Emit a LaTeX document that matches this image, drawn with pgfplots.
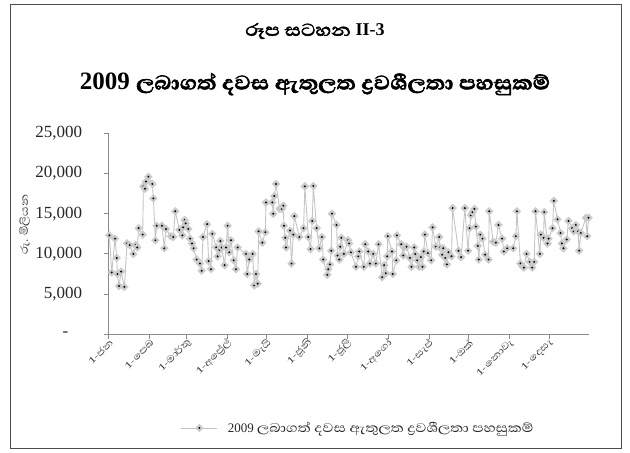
\documentclass[border=0pt]{standalone}
\usepackage{pgfplots}
\pgfplotsset{compat=1.18}
\usepackage{pgfplotstable}
\usepackage{fontspec}
\setmainfont{Liberation Serif}
\newfontfamily\sinhf[Script=Sinhala, FakeStretch=1.2]{Abhaya Libre}
\newfontfamily\sinhb[Script=Sinhala, FakeStretch=1.15, FakeBold=2.5]{Abhaya Libre}
\definecolor{lngray}{HTML}{C4C4C4}
\definecolor{mkgray}{HTML}{CBCBCB}
\definecolor{axgray}{HTML}{8A8A8A}
\pgfdeclareplotmark{dd}{%
  \pgfpathmoveto{\pgfqpoint{0pt}{\pgfplotmarksize}}%
  \pgfpathlineto{\pgfqpoint{\pgfplotmarksize}{0pt}}%
  \pgfpathlineto{\pgfqpoint{0pt}{-\pgfplotmarksize}}%
  \pgfpathlineto{\pgfqpoint{-\pgfplotmarksize}{0pt}}%
  \pgfpathclose
  \pgfsetfillcolor{mkgray}\pgfusepath{fill}%
  \pgfpathcircle{\pgfpointorigin}{1.1pt}%
  \pgfsetfillcolor{black}\pgfusepath{fill}%
}
\pgfplotstableread{
d v
0.5 12300
2.3 7700
4.8 11900
6.1 9500
6.6 7500
7.8 6000
9.4 7800
11.9 5900
13.9 11300
15.9 11100
18.7 10000
20.5 11100
21.7 10800
22.7 13200
25.8 12400
26.3 18400
27.5 18100
28.3 19000
30.1 19600
33.1 18700
33.9 16900
35.4 11700
36.4 13500
40.4 13500
42.2 10700
43.5 13100
47.0 12200
49.0 12100
50.5 15300
53.6 13000
55.9 12300
56.4 13300
57.6 14200
58.4 13800
60.4 13100
61.7 11900
63.2 11300
64.4 10700
66.7 9300
69.2 8800
70.5 7900
71.5 12100
74.6 13700
75.8 9100
77.6 8100
78.6 12500
81.6 10800
82.6 9700
83.9 10500
84.7 11600
85.7 10800
87.9 8600
89.0 10800
90.2 13500
91.5 10200
92.7 11700
94.8 9200
96.5 8100
97.8 10800
104.1 10000
105.1 7500
106.6 9300
109.2 10000
110.4 6100
111.7 7500
113.0 6300
113.7 12800
116.5 11400
118.8 12700
119.3 16400
124.1 16400
124.8 15000
125.6 17200
126.9 18700
129.6 15600
131.4 15600
132.4 16000
132.9 13500
133.9 12000
134.5 10800
137.5 12900
138.7 8800
140.0 12400
140.8 14700
144.6 12100
147.8 13200
148.8 18400
151.4 12100
153.1 10600
154.4 14100
155.2 18450
157.7 13200
159.8 10700
161.7 12100
162.7 9300
165.8 7400
166.5 8100
167.8 8700
168.8 10400
169.3 15000
172.8 13600
173.6 9800
174.9 9300
175.6 10900
176.4 12000
178.4 10000
181.5 11700
182.3 11300
183.7 10200
187.5 8400
189.3 9700
190.0 10300
193.5 8400
194.6 11200
196.8 10300
198.1 8800
200.6 10000
202.6 8800
204.7 11200
207.4 7100
208.9 8600
210.2 7600
211.2 9700
211.7 12200
214.8 10300
215.5 7500
218.1 9200
218.6 12300
221.9 11200
223.4 9800
224.1 10800
225.9 10900
228.4 9500
229.7 8400
231.7 10800
232.5 10000
234.0 9200
235.5 8400
236.8 9600
238.0 8400
239.0 10300
239.8 12400
242.1 10100
244.6 9200
245.6 13300
248.1 10900
250.7 12100
251.2 10800
252.9 9900
253.7 10700
255.2 9500
256.5 8700
257.7 10200
260.0 9700
260.8 15700
265.3 10400
267.3 9600
270.1 15700
272.6 10400
273.7 13200
274.7 14800
275.9 15200
277.4 15600
278.5 13400
280.0 11000
280.7 9300
281.8 12400
283.5 11900
285.5 9900
288.1 9300
288.6 15300
291.6 11500
293.6 11400
295.6 13600
298.4 11900
299.7 10300
302.2 10700
306.8 10700
308.8 12200
309.6 15300
312.3 8800
313.9 8400
314.9 8300
316.9 10000
319.4 9000
321.2 8300
322.7 9000
323.7 15300
327.0 10000
327.8 12400
329.8 12000
330.3 15200
332.8 11300
333.6 11900
336.6 13200
337.6 16600
340.4 14300
342.7 12600
343.7 11300
344.9 10700
347.4 11800
348.7 14100
351.5 13200
352.7 12800
354.3 13600
356.0 12800
356.8 10400
358.1 12600
361.9 14500
362.9 12200
363.9 14500
}\liqdata
\begin{document}
\begin{tikzpicture}
\path (0pt,0pt) rectangle (630pt,-453pt);
\draw[line width=0.9pt, draw=black!70] (10pt,-4pt) rectangle (621pt,-448pt);
\node[anchor=center, inner sep=0pt] at (315pt,-31pt) {\sinhb\fontsize{22}{25}\selectfont රූප සටහන\ \rmfamily\bfseries\fontsize{18}{22}\selectfont II-3};
\node[anchor=center, inner sep=0pt] at (315pt,-84pt) {\rmfamily\bfseries\fontsize{25}{28}\selectfont 2009\ \sinhb ලබාගත් දවස ඇතුලත ද්‍රවශීලතා පහසුකම්};
\begin{axis}[
  at={(108.7pt,-334.3pt)}, anchor=south west,
  scale only axis, width=480.6pt, height=201pt,
  xmin=0, xmax=364.5, ymin=0, ymax=25000,
  clip=false,
  scaled y ticks=false,
  axis lines=left,
  axis line style={-, draw=axgray, line width=1.2pt},
  tick align=outside, major tick length=5pt,
  tick style={draw=axgray, line width=1pt},
  xtick={0,31,59,90,120,151,181,212,243,273,304,334},
  xticklabels={1-ජන,1-පෙබ,1-මාර්තු,1-අප්‍රේල්,1-මැයි,1-ජූනි,1-ජූලි,1-අගෝ,1-සැප්,1-ඔක්,1-නොවැ,1-දෙසැ},
  xticklabel style={font=\sinhf\fontsize{12}{14}\selectfont, rotate=45, anchor=east, text=black!80, xshift=4pt, yshift=-3pt},
  ytick={0,5000,10000,15000,20000,25000},
  yticklabels={{-\hspace*{14pt}},{5,000},{10,000},{15,000},{20,000},{25,000}},
  yticklabel style={font=\fontsize{17}{19}\selectfont, text=black!85, xshift=-18pt},
  ylabel={\sinhf රු. මිලියන},
  ylabel style={font=\fontsize{13}{15}\selectfont, at={(axis description cs:-0.175,0.544)}, anchor=center, text=black!80},
  legend style={at={(axis description cs:0.519,-0.466)}, anchor=center, draw=none, fill=none, font=\fontsize{13}{15}\selectfont, text=black!85},
  legend image code/.code={\draw[#1, mark repeat=2, mark phase=2] plot coordinates {(0pt,0pt) (18pt,0pt) (36pt,0pt)};},
]
\addplot[color=lngray, line width=0.9pt, mark=dd, mark size=4.3pt] table[x=d, y=v] {\liqdata};
\addlegendentry{\hspace*{8pt}2009 {\sinhf\fontsize{16}{18}\selectfont ලබාගත් දවස ඇතුලත ද්‍රවශීලතා පහසුකම්}}
\end{axis}
\end{tikzpicture}
\end{document}
